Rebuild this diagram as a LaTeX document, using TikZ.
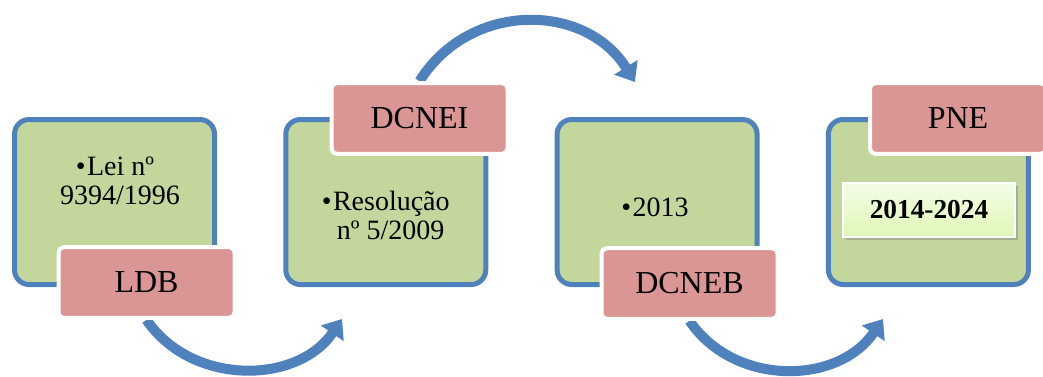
\documentclass[tikz,border=0pt]{standalone}
\usepackage{fontspec}
\setmainfont{Liberation Serif}
\usetikzlibrary{arrows.meta,backgrounds,shadows}

\definecolor{boxgreen}{RGB}{195,214,155}
\definecolor{boxblue}{RGB}{79,129,189}
\definecolor{tagred}{RGB}{217,150,148}
\definecolor{yeartop}{RGB}{244,253,232}
\definecolor{yearbottom}{RGB}{222,248,180}

\tikzset{every picture/.style={line width=0.75pt}}
\tikzset{
  stagebox/.style={draw=boxblue, fill=boxgreen, line width=3.75pt, rounded corners=11pt,
    minimum width=150pt, minimum height=123.75pt},
  tagbox/.style={draw=white, fill=tagred, line width=3pt, rounded corners=4pt,
    minimum width=132pt, minimum height=53pt, font=\fontsize{24}{27}\selectfont},
  stagetext/.style={align=center, font=\fontsize{21}{21.75}\selectfont},
  yearbox/.style={draw=white, line width=1pt, top color=yeartop, bottom color=yearbottom,
    minimum width=129pt, minimum height=40.5pt, font=\fontsize{20.5}{22}\selectfont\bfseries,
    drop shadow={shadow xshift=2pt, shadow yshift=-2.5pt, opacity=0.45}},
  flowarrow/.style={draw=boxblue, line width=7.5pt, -{Triangle[width=20pt,length=13pt]}},
}

\begin{document}
\begin{tikzpicture}[x=0.75pt,y=0.75pt,yscale=-1,xscale=1]
\useasboundingbox (0,0) rectangle (1043,376);

% Green stage boxes
\node [stagebox] (lei) at (114.5,202) {};
\node [stagebox] (resolucao) at (385.8,202) {};
\node [stagebox] (dcnebyear) at (657.1,202) {};
\node [stagebox] (pneperiod) at (928.4,202) {};

% Text inside the stage boxes
\node [stagetext] (leitxt) at (115,181) {•\kern1pt Lei nº\\\phantom{•}9394/1996};
\node [stagetext] (resotxt) at (385.8,215) {•\kern1pt Resolução\\\phantom{•}nº 5/2009};
\node [stagetext] (yeartxt) at (655,207) {•\kern1pt 2013};
\node [yearbox] (pneyears) at (929,210) {2014-2024};

% Red name tags
\node [tagbox] (ldb) at (146.5,282.5) {LDB};
\node [tagbox] (dcnei) at (419.5,118.5) {DCNEI};
\node [tagbox] (dcneb) at (689.5,283.5) {DCNEB};
\node [tagbox] (pne) at (958,118.5) {PNE};

% Curved arrows between the stages
\begin{scope}[on background layer]
\coordinate (tip1) at (342,319);
\coordinate (tip2) at (635,82);
\coordinate (tip3) at (883,319);
\draw [flowarrow] (ldb.south) .. controls +(45,66) and +(-45,66) .. (tip1);
\draw [flowarrow] (dcnei.north) .. controls +(50,-80) and +(-50,-80) .. (tip2);
\draw [flowarrow] (dcneb.south) .. controls +(45,66) and +(-45,66) .. (tip3);
\end{scope}

\end{tikzpicture}
\end{document}
